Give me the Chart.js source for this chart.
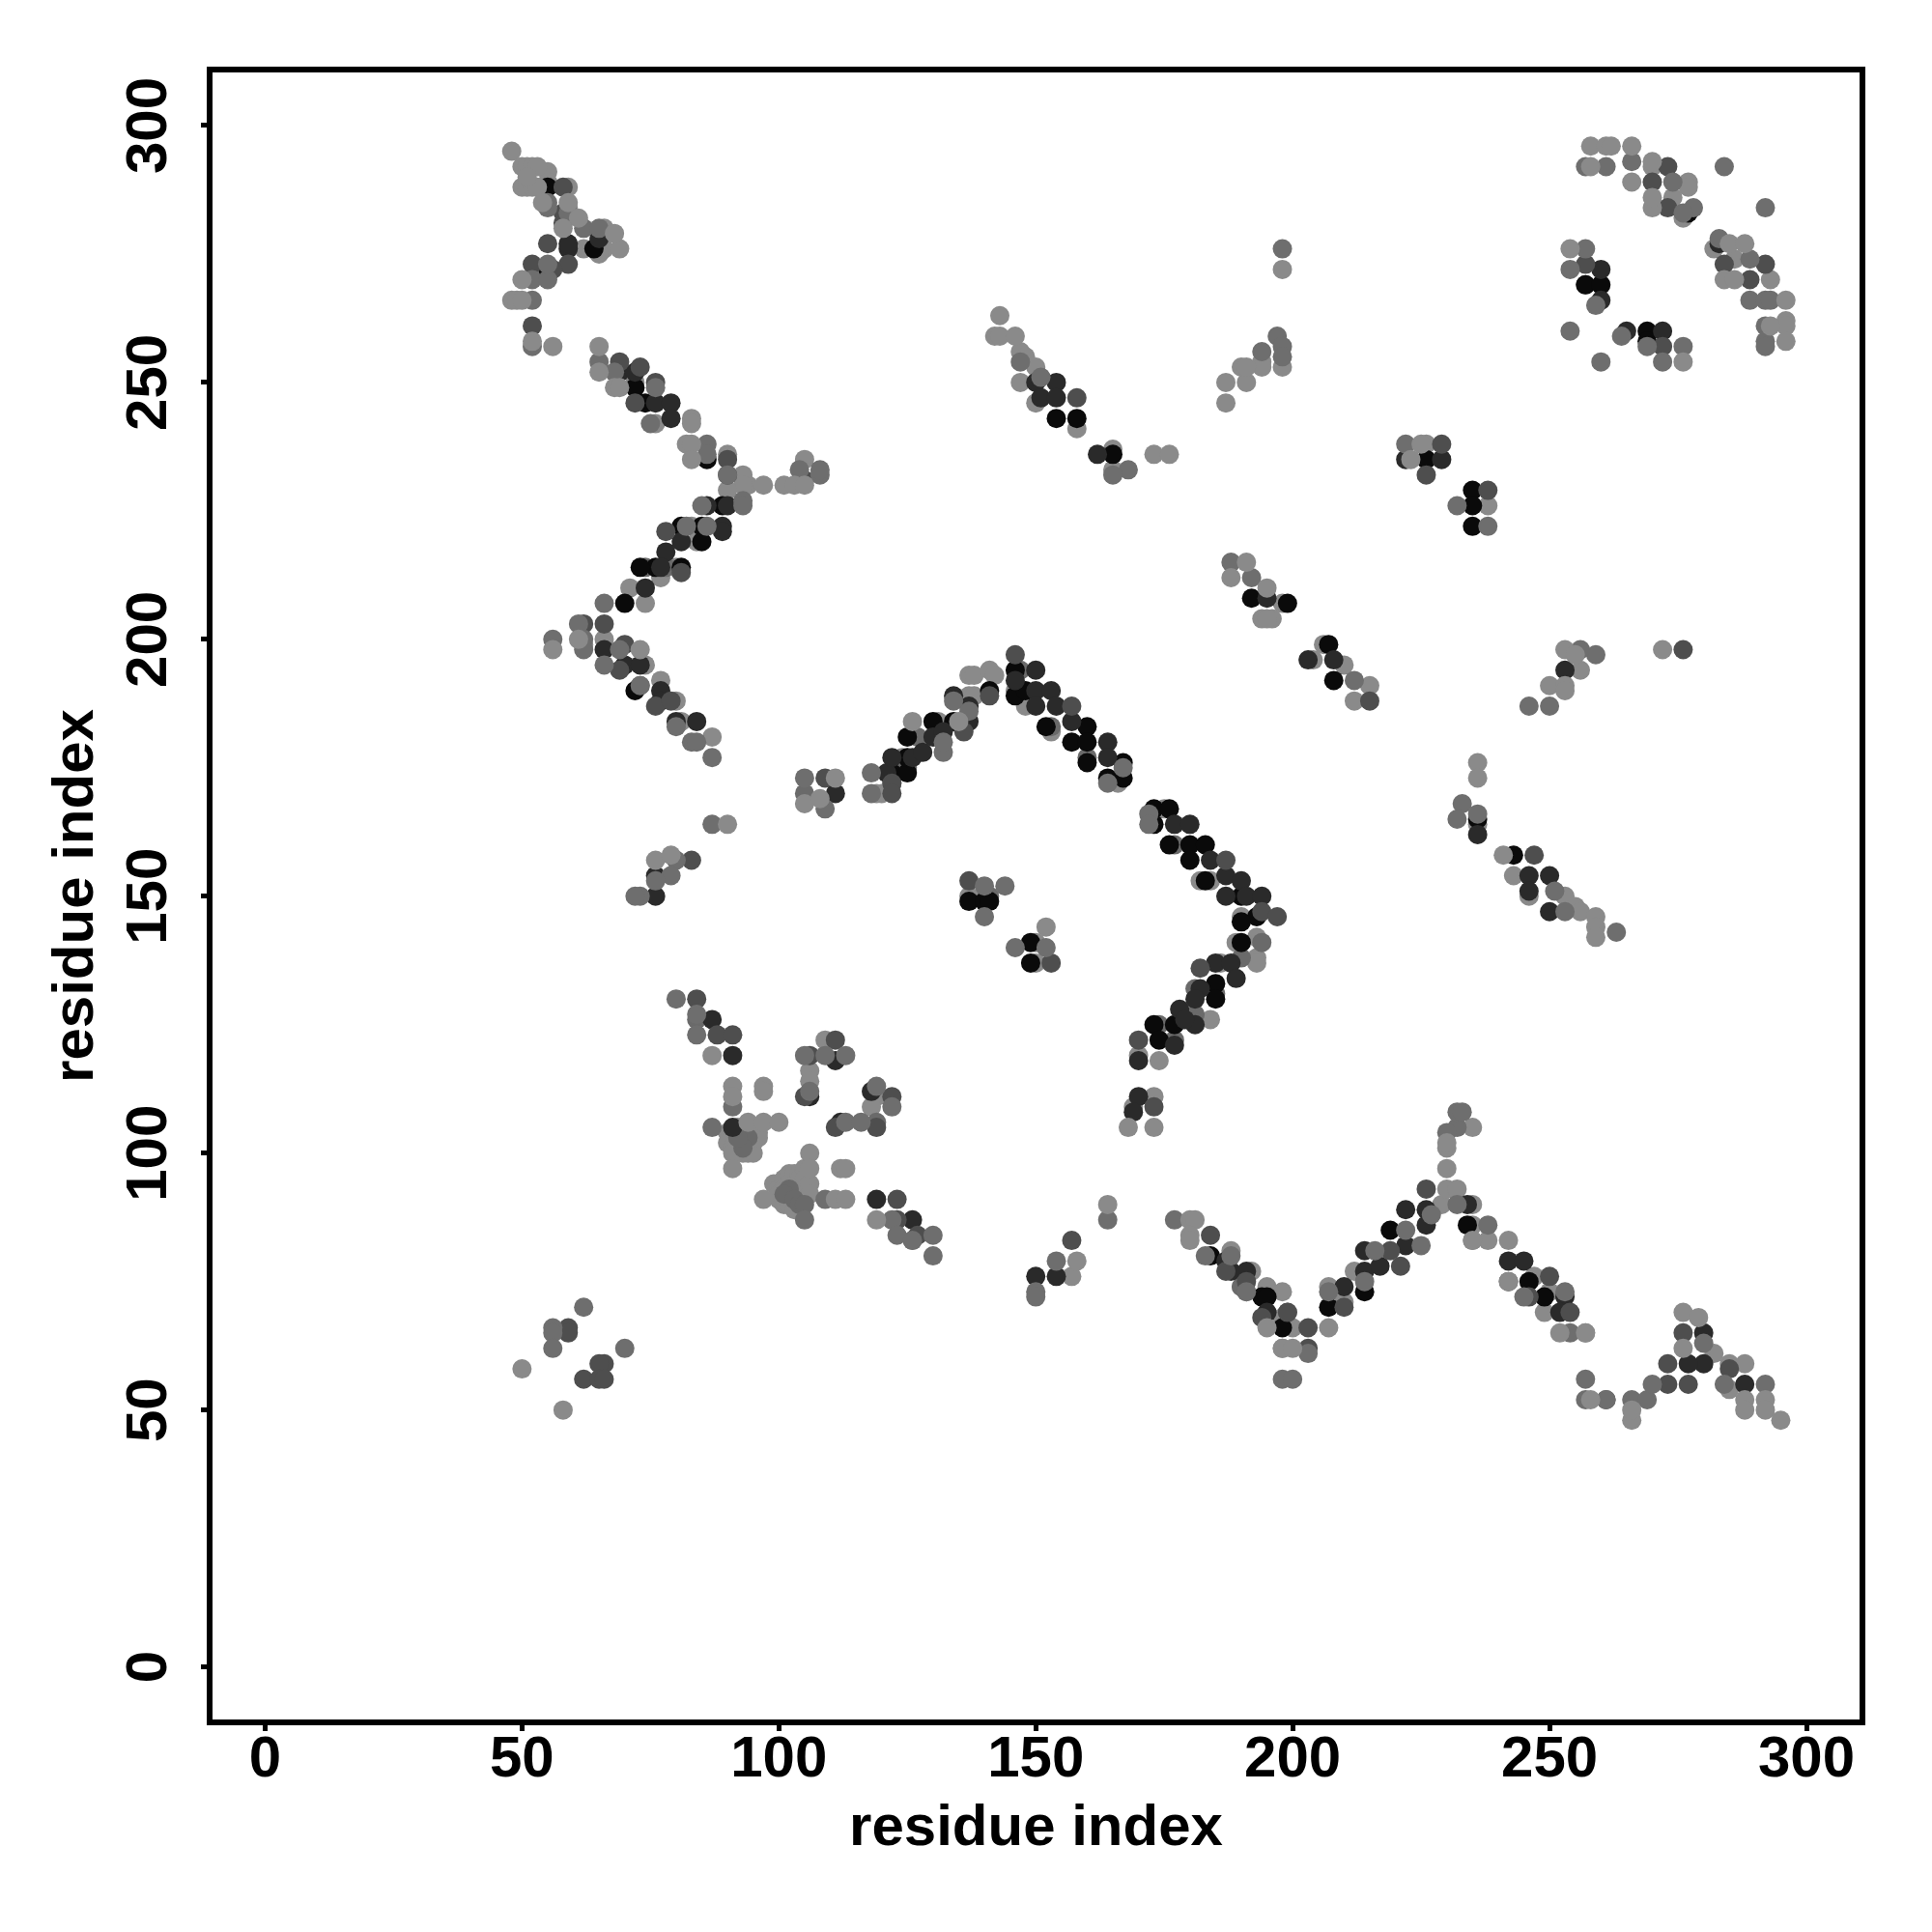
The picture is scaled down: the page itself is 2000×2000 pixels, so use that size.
<!DOCTYPE html>
<html>
<head>
<meta charset="utf-8">
<script src="https://cdn.jsdelivr.net/npm/chart.js@4/dist/chart.umd.min.js"></script>
<style>
  html, body { margin: 0; padding: 0; background: #fff; }
  #wrap { width: 2000px; height: 2000px; }
</style>
</head>
<body>
<div id="wrap"><canvas id="chart" width="2000" height="2000"></canvas></div>
<script>
const tickValues = [0, 50, 100, 150, 200, 250, 300];

// residue pairs [x, y], one list per grey level
const lightPairs = [
  [48,295],[50,292],[51,292],[52,292],[53,292],[50,288],[51,288],[52,288],[53,288],[51,290],[54,285],[59,285],[61,282],[58,280],[68,279],[50,270],[48,266],[49,266],[50,266],[52,258],[56,257],
  [65,257],[65,252],[68,249],[69,249],[82,238],[83,238],[83,235],[97,230],[101,230],[103,230],[105,230],
  [56,198],[61,200],[73,198],[90,164],[76,157],[79,158],
  [87,119],[91,113],[91,111],[97,113],[97,112],[94,106],[97,106],[100,106],[91,97],
  [97,91],[112,97],[113,97],[111,91],[113,91],[119,87],[106,100],[106,97],
  [105,168],[108,169],[111,173],[174,118],[168,105],[173,105],[164,90],
  [143,263],[142,259],[143,259],[146,259],[173,236],[176,236],[198,272],[187,250],[191,250],[187,246],[190,253],[191,253],
  [225,238],[223,235],[258,296],[261,296],[262,296],[266,296],[258,292],[266,289],[270,293],[270,284],[270,286],[285,277],[288,277],[284,270],[286,270],
  [296,266],[296,262],[296,261],[296,258],[254,276],[276,254],[293,261],
  [236,176],[236,173],[241,158],[259,146],[259,144],[259,142],[191,215],[188,212],[195,210],[272,198],[253,198],[255,197],[250,191],[253,191],[253,190],
  [230,97],[230,101],[230,102],[235,83],[242,83],[242,75],[207,66],[195,66],[198,62],[200,62],[252,65],[257,65],[258,52],
  [266,48],[266,50],[276,69],[279,68],[276,62],[288,52],[288,50],[292,52],[292,50],[295,48],[50,58],[58,50],[126,184],[135,184],[180,87],[181,87],[180,84],[180,83]
];
const midPairs = [
  [55,285],[55,284],[59,283],[62,280],[65,280],[52,270],[55,270],[55,273],[52,266],[52,257],
  [65,254],[68,252],[86,238],[86,236],[76,249],[75,242],[90,232],[108,232],[108,233],[104,233],[93,227],[93,226],[85,226],[82,222],[86,222],
  [56,200],[62,200],[62,198],[61,203],[66,207],[69,198],[66,195],[73,191],[80,183],[83,180],[84,180],[87,177],[87,164],[80,157],[79,154],[76,153],[73,150],[72,150],
  [80,130],[84,127],[84,123],[87,105],[91,109],[105,87],[122,87],[123,84],[126,83],[130,84],[130,80],
  [105,119],[109,119],[113,119],[113,106],[116,106],[119,113],[122,109],[109,91],[106,112],
  [105,173],[118,170],[118,174],[132,178],[109,167],[132,180],[134,188],[137,186],
  [197,259],[198,257],[198,255],[194,256],[198,276],[147,254],[151,251],[168,233],[165,232],
  [222,238],[232,226],[238,222],[233,168],[232,165],[236,166],[251,151],[253,147],[263,143],[188,215],[192,212],[212,192],[259,197],[256,198],[246,187],[250,187],
  [257,292],[261,292],[266,293],[274,289],[284,292],[292,284],[278,284],[276,283],[283,278],[289,274],[289,266],[292,266],[293,266],[292,261],[292,258],[292,257],[257,276],[254,272],[254,260],[259,265],[264,259],[260,254],[269,257],[276,257],[272,254],
  [144,152],[140,146],[146,140],[152,140],[140,152],[172,166],[172,164],[164,172],[167,175],
  [177,87],[164,87],[154,79],[150,73],[150,72],[183,80],[188,80],[232,105],[230,104],[232,108],[233,108],[238,86],[245,72],[191,73],[207,73],[214,75],[216,81],[222,85],[225,82],[227,88],[232,90],[253,73],[254,65],[257,56],[257,52],[261,52],[266,52],[269,52],[270,55],[280,63],[284,55],[292,55],
  [198,56],[200,56],[203,61],[62,70],[56,66],[56,65],[56,62],[70,62]
];
const dimPairs = [
  [58,288],[58,283],[58,281],[52,273],[55,277],[59,273],[56,272],[52,261],[69,254],[73,253],[76,250],[72,246],[90,235],[90,232],[105,231],[78,221],[66,203],[62,203],[70,199],[69,194],[76,187],[79,188],[83,157],
  [84,130],[88,123],[91,123],[109,173],[111,122],[105,111],[111,105],[119,105],[122,111],[123,91],[123,87],[127,84],[106,119],[157,83],[184,84],[187,77],[191,75],[194,68],[199,69],[203,66],[203,62],[210,70],[221,78],[226,93],[219,81],[81,213],
  [158,247],[226,232],[229,238],[238,229],[215,188],[276,198],[247,158],[273,292],[273,284],[270,289],[292,273],[284,273],[273,59],[273,55],[277,55],[276,65],[285,58],[250,76],[254,69],[246,72],[242,75],[261,52],
  [137,153],[153,137],[146,197],[187,157],[194,147],[197,146],[182,136],[170,122],[173,109],[59,66],[59,65],[66,59],[65,59],[62,56],[65,56],[66,56],[122,172],[122,170],[136,182],[141,189],[157,187],[257,273],[272,257],[289,270]
];
const darkPairs = [
  [59,276],[59,277],[65,278],[69,252],[72,252],[76,246],[79,246],[79,243],[86,226],[90,226],[89,222],[89,221],[81,219],[78,217],[77,214],[74,210],[70,195],[73,195],[77,190],[77,188],[66,198],[80,184],[84,184],[76,154],[76,150],
  [87,126],[91,119],[91,105],[119,91],[126,87],[111,118],[106,111],[112,106],[118,112],[111,170],[121,174],[122,177],[126,177],[128,178],[130,181],[132,182],[134,189],[137,184],[137,187],
  [146,192],[150,194],[150,190],[150,187],[153,190],[154,187],[157,184],[164,180],[164,177],
  [177,164],[180,164],[184,157],[187,154],[190,153],[187,150],[191,150],[194,150],[185,137],[188,137],[189,134],[182,132],[181,130],[178,128],[181,125],[179,126],[177,121],[170,118],[170,111],[169,108],
  [150,250],[151,247],[154,250],[154,247],[162,236],[222,235],[229,235],[236,162],[246,154],[250,154],[246,151],[250,147],[195,208],[208,196],[203,196],[253,194],
  [150,76],[154,76],[187,79],[188,77],[191,77],[195,69],[210,74],[214,77],[217,78],[214,81],[222,82],[226,86],[222,89],[226,89],[234,90],
  [242,79],[245,79],[253,72],[252,69],[260,272],[260,266],[265,260],[272,260],[283,277],[280,65],[280,59],[277,59],[288,55]
];
const blackPairs = [
  [55,288],[64,276],[55,272],[72,190],[72,249],[74,246],[86,235],[85,222],[81,222],[89,226],[85,219],[81,214],[76,214],[73,214],[70,207],
  [122,174],[125,174],[125,177],[125,181],[130,184],[134,184],[141,190],[146,194],[146,189],[148,190],[137,149],[140,149],[141,149],[149,141],[149,137],
  [152,183],[157,180],[160,183],[160,180],[160,176],[167,176],[164,173],[167,173],[173,167],[176,167],[173,164],[176,160],[180,160],[183,160],[180,157],[183,153],[190,150],[193,146],[190,145],[190,141],[185,133],[185,130],[177,125],[173,125],[174,122],
  [154,243],[158,243],[165,236],[226,235],[235,229],[235,226],[235,222],[236,165],[243,158],[192,208],[199,207],[207,199],[208,192],[184,80],[194,72],[198,66],[195,72],[207,70],[214,73],[219,85],[234,86],[246,75],[249,72],[257,269],[260,269],[269,260],[269,258],[277,283]
];
const overMidPairs = [
  [160,177],[177,160],[141,150],[147,194],[153,183],[181,127],[185,131],[194,141],[190,138],[177,122],[174,125],[125,175],[127,181],[122,172],[181,132],[78,214],[257,269],[191,73],
  [84,126],[94,103],[93,101],[92,103],[102,93],[101,92],[103,91],[104,90],[105,90],[119,106],[105,170],[74,214],[73,191],[199,69],[190,74]
];
const topLightPairs = [
  [59,288],[55,291],[55,289],[59,284],[66,280],[66,276],[69,276],[62,276],[65,275],[62,199],[66,200],[74,195],[77,192],[80,188],[81,184],[87,181],[105,235],[93,232],[94,230],[93,230],[90,236],[90,229],[83,243],[83,242],[76,242],[72,250],[80,214],[77,212],[71,210],[74,207],[83,222],[84,219],
  [90,104],[91,104],[91,103],[92,105],[92,104],[92,102],[92,101],[93,105],[93,103],[93,102],[93,100],[94,104],[94,102],[94,101],[94,100],[95,104],[95,103],[95,102],[95,100],[96,104],[96,103],[90,102],[91,101],[91,100],
  [99,94],[100,93],[100,92],[100,91],[101,95],[101,93],[101,91],[101,90],[102,96],[102,94],[102,92],[102,90],[103,96],[103,94],[103,92],[103,89],[104,96],[104,95],[104,93],[104,91],[105,97],[105,95],[105,93],[105,91],[106,94],[106,92],
  [109,122],[106,116],[106,114],[119,111],[118,109],[126,83],[119,170],[120,170],[124,177],[131,184],[137,189],[138,189],[137,193],[138,193],[141,194],[142,193],[146,190],[148,187],[153,182],
  [182,153],[184,153],[190,146],[193,142],[193,138],[193,137],[189,141],[186,137],[184,126],[170,119],[173,111],[169,109],[166,172],[175,167],
  [147,256],[148,255],[150,253],[147,250],[150,246],[158,241],[165,237],[165,233],[238,226],[236,164],[243,154],[246,150],[253,150],[255,148],[256,147],
  [198,207],[196,204],[194,204],[195,204],[206,199],[204,196],[210,195],[215,191],[212,188],[256,194],
  [194,254],[194,253],[198,253],[226,238],[270,292],[277,289],[277,288],[274,286],[276,282],[286,274],[282,276],[293,270],
  [157,76],[158,79],[188,81],[192,77],[190,74],[195,74],[198,73],[198,68],[200,66],[198,62],[207,74],[210,71],[212,77],
  [229,90],[230,93],[232,93],[235,105],[235,90],[235,86],[235,83],[238,83],[247,76],[250,73],[249,69],[257,65],[282,61],[285,59],[285,54],[288,59],[152,144],[150,137],[150,141],[137,150],[140,150]
];

const greyLevels = [
  { pairs: lightPairs, color: '#8a8a8a' },
  { pairs: midPairs, color: '#6e6e6e' },
  { pairs: dimPairs, color: '#4e4e4e' },
  { pairs: darkPairs, color: '#2a2a2a' },
  { pairs: blackPairs, color: '#0a0a0a' },
  { pairs: overMidPairs, color: '#6a6a6a' },
  { pairs: topLightPairs, color: '#8a8a8a' }
];

const axisFont = { family: '"Liberation Sans"', size: 60, weight: 'bold' };

// R style box round the plot region
const boxPlugin = {
  id: 'box',
  afterDraw(chart) {
    const { left, right, top, bottom } = chart.chartArea;
    const ctx = chart.ctx;
    ctx.save();
    ctx.strokeStyle = '#000';
    ctx.lineWidth = 6;
    ctx.strokeRect(left, top, right - left, bottom - top);
    ctx.restore();
  }
};

new Chart(document.getElementById('chart').getContext('2d'), {
  type: 'scatter',
  data: {
    datasets: greyLevels.map((g) => ({
      data: g.pairs.map(([x, y]) => ({ x, y })),
      backgroundColor: g.color,
      borderWidth: 0,
      pointRadius: 10,
      pointHoverRadius: 10
    }))
  },
  options: {
    responsive: false,
    animation: false,
    devicePixelRatio: 1,
    layout: { padding: { top: 72, right: 72, bottom: 0, left: 0 } },
    plugins: { legend: { display: false }, tooltip: { enabled: false } },
    scales: {
      x: {
        type: 'linear',
        min: -10.8,
        max: 310.9,
        afterBuildTicks: (scale) => { scale.ticks = tickValues.map((value) => ({ value })); },
        afterFit: (scale) => { scale.height = 217; },
        border: { display: false },
        grid: { drawOnChartArea: false, tickLength: 9, tickWidth: 5, tickColor: '#000' },
        ticks: { color: '#000', font: axisFont, padding: -6, maxRotation: 0, minRotation: 0, autoSkip: false },
        title: { display: true, text: 'residue index', color: '#000', font: axisFont, padding: { top: 4, bottom: 71 } }
      },
      y: {
        type: 'linear',
        min: -10.8,
        max: 310.9,
        afterBuildTicks: (scale) => { scale.ticks = tickValues.map((value) => ({ value })); },
        afterFit: (scale) => { scale.width = 217; },
        border: { display: false },
        grid: { drawOnChartArea: false, tickLength: 9, tickWidth: 5, tickColor: '#000' },
        ticks: { color: '#000', font: axisFont, padding: 2, minRotation: 90, maxRotation: 90, crossAlign: 'center', autoSkip: false },
        title: { display: true, text: 'residue index', color: '#000', font: axisFont, padding: { top: 43, bottom: 0 } }
      }
    }
  },
  plugins: [boxPlugin]
});
</script>
</body>
</html>
